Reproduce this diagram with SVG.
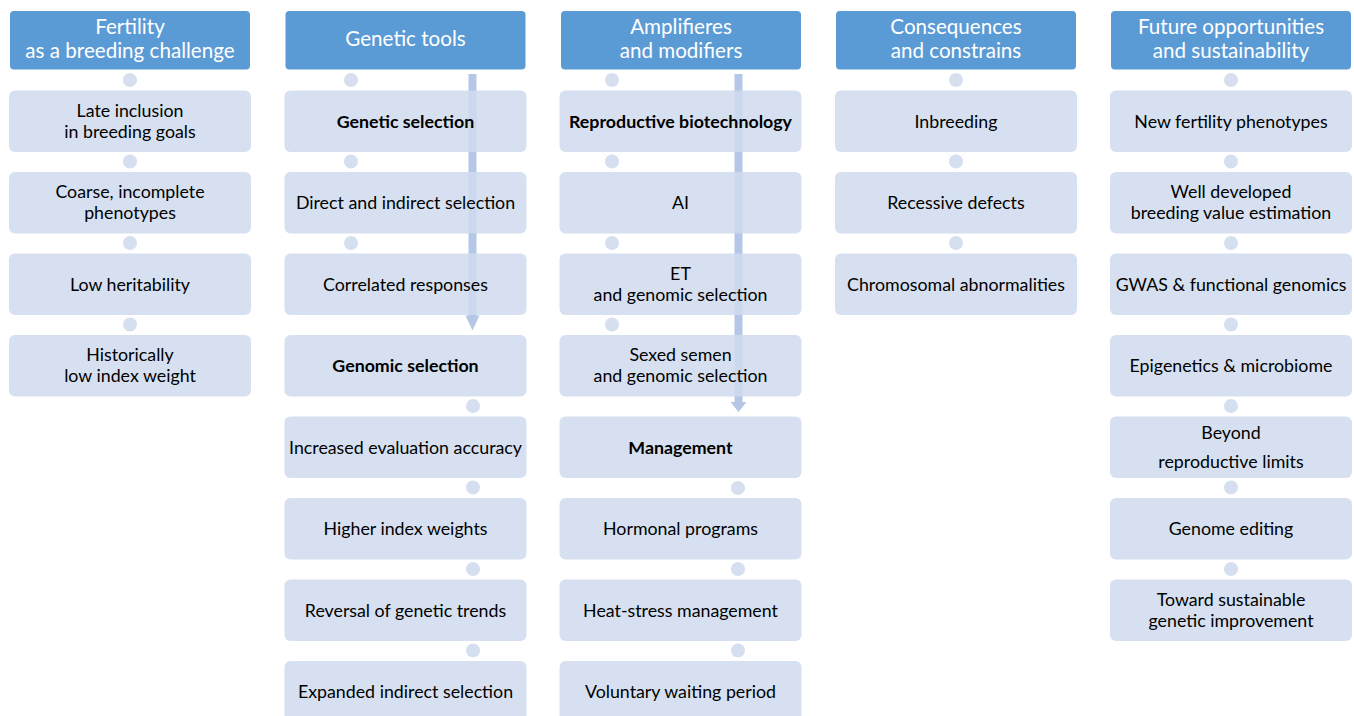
<svg xmlns="http://www.w3.org/2000/svg" width="1354" height="716" viewBox="0 0 1354 716">
<style>
.hd{fill:#5b9bd5;}
.bx{fill:rgb(207,219,238);fill-opacity:0.85;}
.dot{fill:#d5dff0;}
.arr{fill:#b4c7e7;}
.ht{font-family:Lato,"Liberation Sans",sans-serif;font-size:20.6px;fill:#ffffff;text-anchor:middle;}
.t{font-family:Lato,"Liberation Sans",sans-serif;font-size:17.8px;fill:#000000;text-anchor:middle;}
.b{font-weight:bold;}
</style>
<rect width="1354" height="716" fill="#ffffff"/>
<g id="connectors">
<circle class="dot" cx="130" cy="80" r="7"/><circle class="dot" cx="130" cy="161.5" r="7"/><circle class="dot" cx="130" cy="243" r="7"/><circle class="dot" cx="130" cy="324.5" r="7"/>
<circle class="dot" cx="351" cy="80" r="7"/><circle class="dot" cx="351" cy="161.5" r="7"/><circle class="dot" cx="351" cy="243" r="7"/>
<circle class="dot" cx="473" cy="406" r="7"/><circle class="dot" cx="473" cy="487.5" r="7"/><circle class="dot" cx="473" cy="569" r="7"/><circle class="dot" cx="473" cy="650.5" r="7"/>
<circle class="dot" cx="612" cy="80" r="7"/><circle class="dot" cx="612" cy="161.5" r="7"/><circle class="dot" cx="612" cy="243" r="7"/><circle class="dot" cx="612" cy="324.5" r="7"/>
<circle class="dot" cx="738" cy="488" r="7"/><circle class="dot" cx="738" cy="569" r="7"/><circle class="dot" cx="738" cy="650.5" r="7"/>
<circle class="dot" cx="956" cy="80" r="7"/><circle class="dot" cx="956" cy="161.5" r="7"/><circle class="dot" cx="956" cy="243" r="7"/>
<circle class="dot" cx="1231" cy="80" r="7"/><circle class="dot" cx="1231" cy="161.5" r="7"/><circle class="dot" cx="1231" cy="243" r="7"/><circle class="dot" cx="1231" cy="324.5" r="7"/><circle class="dot" cx="1231" cy="406" r="7"/><circle class="dot" cx="1231" cy="487.5" r="7"/><circle class="dot" cx="1231" cy="569" r="7"/>
<path class="arr" d="M468.5,74 H476.5 V315.5 H479.5 L472.5,330.5 L465.5,315.5 H468.5 Z"/>
<path class="arr" d="M734.5,74 H742.5 V402 H746.5 L738.5,412 L730.5,402 H734.5 Z"/>
</g>
<g id="col1">
<g id="h1"><rect class="hd" x="10" y="11" width="240" height="58.5" rx="4"/><text class="ht" x="130" y="34">Fertility</text><text class="ht" x="130" y="58">as a breeding challenge</text></g>
<g id="n1a"><rect class="bx" x="9" y="90.5" width="242" height="61.5" rx="6"/><text class="t" x="130" y="116.5">Late inclusion</text><text class="t" x="130" y="137.5">in breeding goals</text></g>
<g id="n1b"><rect class="bx" x="9" y="172" width="242" height="61.5" rx="6"/><text class="t" x="130" y="198">Coarse, incomplete</text><text class="t" x="130" y="219">phenotypes</text></g>
<g id="n1c"><rect class="bx" x="9" y="253.5" width="242" height="61.5" rx="6"/><text class="t" x="130" y="290.5">Low heritability</text></g>
<g id="n1d"><rect class="bx" x="9" y="335" width="242" height="61.5" rx="6"/><text class="t" x="130" y="361">Historically</text><text class="t" x="130" y="382">low index weight</text></g>
</g>
<g id="col2">
<g id="h2"><rect class="hd" x="285.5" y="11" width="240" height="58.5" rx="4"/><text class="ht" x="405.5" y="46">Genetic tools</text></g>
<g id="n2a"><rect class="bx" x="284.5" y="90.5" width="242" height="61.5" rx="6"/><text class="t b" x="405.5" y="127.5">Genetic selection</text></g>
<g id="n2b"><rect class="bx" x="284.5" y="172" width="242" height="61.5" rx="6"/><text class="t" x="405.5" y="209">Direct and indirect selection</text></g>
<g id="n2c"><rect class="bx" x="284.5" y="253.5" width="242" height="61.5" rx="6"/><text class="t" x="405.5" y="290.5">Correlated responses</text></g>
<g id="n2d"><rect class="bx" x="284.5" y="335" width="242" height="61.5" rx="6"/><text class="t b" x="405.5" y="372">Genomic selection</text></g>
<g id="n2e"><rect class="bx" x="284.5" y="416.5" width="242" height="61.5" rx="6"/><text class="t" x="405.5" y="453.5">Increased evaluation accuracy</text></g>
<g id="n2f"><rect class="bx" x="284.5" y="498" width="242" height="61.5" rx="6"/><text class="t" x="405.5" y="535">Higher index weights</text></g>
<g id="n2g"><rect class="bx" x="284.5" y="579.5" width="242" height="61.5" rx="6"/><text class="t" x="405.5" y="616.5">Reversal of genetic trends</text></g>
<g id="n2h"><rect class="bx" x="284.5" y="661" width="242" height="61.5" rx="6"/><text class="t" x="405.5" y="698">Expanded indirect selection</text></g>
</g>
<g id="col3">
<g id="h3"><rect class="hd" x="561" y="11" width="240" height="58.5" rx="4"/><text class="ht" x="681" y="34">Amplifieres</text><text class="ht" x="681" y="58">and modifiers</text></g>
<g id="n3a"><rect class="bx" x="559.5" y="90.5" width="242" height="61.5" rx="6"/><text class="t b" x="680.5" y="127.5">Reproductive biotechnology</text></g>
<g id="n3b"><rect class="bx" x="559.5" y="172" width="242" height="61.5" rx="6"/><text class="t" x="680.5" y="209">AI</text></g>
<g id="n3c"><rect class="bx" x="559.5" y="253.5" width="242" height="61.5" rx="6"/><text class="t" x="680.5" y="279.5">ET</text><text class="t" x="680.5" y="300.5">and genomic selection</text></g>
<g id="n3d"><rect class="bx" x="559.5" y="335" width="242" height="61.5" rx="6"/><text class="t" x="680.5" y="361">Sexed semen</text><text class="t" x="680.5" y="382">and genomic selection</text></g>
<g id="n3e"><rect class="bx" x="559.5" y="416.5" width="242" height="61.5" rx="6"/><text class="t b" x="680.5" y="453.5">Management</text></g>
<g id="n3f"><rect class="bx" x="559.5" y="498" width="242" height="61.5" rx="6"/><text class="t" x="680.5" y="535">Hormonal programs</text></g>
<g id="n3g"><rect class="bx" x="559.5" y="579.5" width="242" height="61.5" rx="6"/><text class="t" x="680.5" y="616.5">Heat-stress management</text></g>
<g id="n3h"><rect class="bx" x="559.5" y="661" width="242" height="61.5" rx="6"/><text class="t" x="680.5" y="698">Voluntary waiting period</text></g>
</g>
<g id="col4">
<g id="h4"><rect class="hd" x="836" y="11" width="240" height="58.5" rx="4"/><text class="ht" x="956" y="34">Consequences</text><text class="ht" x="956" y="58">and constrains</text></g>
<g id="n4a"><rect class="bx" x="835" y="90.5" width="242" height="61.5" rx="6"/><text class="t" x="956" y="127.5">Inbreeding</text></g>
<g id="n4b"><rect class="bx" x="835" y="172" width="242" height="61.5" rx="6"/><text class="t" x="956" y="209">Recessive defects</text></g>
<g id="n4c"><rect class="bx" x="835" y="253.5" width="242" height="61.5" rx="6"/><text class="t" x="956" y="290.5">Chromosomal abnormalities</text></g>
</g>
<g id="col5">
<g id="h5"><rect class="hd" x="1111" y="11" width="240" height="58.5" rx="4"/><text class="ht" x="1231" y="34">Future opportunities</text><text class="ht" x="1231" y="58">and sustainability</text></g>
<g id="n5a"><rect class="bx" x="1110" y="90.5" width="242" height="61.5" rx="6"/><text class="t" x="1231" y="127.5">New fertility phenotypes</text></g>
<g id="n5b"><rect class="bx" x="1110" y="172" width="242" height="61.5" rx="6"/><text class="t" x="1231" y="198">Well developed</text><text class="t" x="1231" y="219">breeding value estimation</text></g>
<g id="n5c"><rect class="bx" x="1110" y="253.5" width="242" height="61.5" rx="6"/><text class="t" x="1231" y="290.5">GWAS &amp; functional genomics</text></g>
<g id="n5d"><rect class="bx" x="1110" y="335" width="242" height="61.5" rx="6"/><text class="t" x="1231" y="372">Epigenetics &amp; microbiome</text></g>
<g id="n5e"><rect class="bx" x="1110" y="416.5" width="242" height="61.5" rx="6"/><text class="t" x="1231" y="438.5">Beyond</text><text class="t" x="1231" y="467.5">reproductive limits</text></g>
<g id="n5f"><rect class="bx" x="1110" y="498" width="242" height="61.5" rx="6"/><text class="t" x="1231" y="535">Genome editing</text></g>
<g id="n5g"><rect class="bx" x="1110" y="579.5" width="242" height="61.5" rx="6"/><text class="t" x="1231" y="605.5">Toward sustainable</text><text class="t" x="1231" y="626.5">genetic improvement</text></g>
</g>
</svg>
